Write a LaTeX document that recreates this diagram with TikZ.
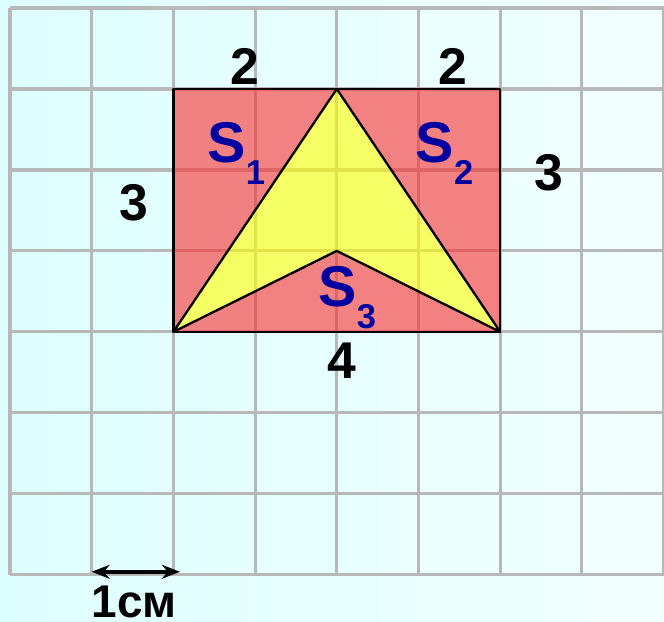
\documentclass[tikz,border=0pt]{standalone}
\usepackage{fontspec}
\setmainfont{Liberation Sans}
\usetikzlibrary{arrows.meta}
\definecolor{bgleft}{RGB}{222,255,255}
\definecolor{bgright}{RGB}{242,255,255}
\definecolor{gridgray}{RGB}{184,184,184}
\definecolor{areared}{RGB}{250,45,45}
\definecolor{areayellow}{RGB}{255,255,0}
\definecolor{labelblue}{RGB}{0,0,160}
\tikzset{
  gridline/.style={gridgray, line width=1.1pt},
  numtext/.style={anchor=base, font=\fontsize{18}{18}\selectfont\bfseries},
  unittext/.style={anchor=base, inner sep=0pt, font=\fontsize{16}{16}\selectfont\bfseries},
  areatext/.style={anchor=base west, inner sep=0pt, text=labelblue, font=\fontsize{20}{20}\selectfont\bfseries},
  outline/.style={line width=0.8pt, line join=round},
}
\newcommand{\sidelabel}[3] {\node at (#1) (#2) [numtext] {#3};}
\newcommand{\arealabel}[3] {\node at (#1) (#2) [areatext] {S\raisebox{-7.5pt}{\fontsize{12}{12}\selectfont #3}};}
\begin{document}
\begin{tikzpicture}[x=1cm, y=0.991cm]

\useasboundingbox (-0.122,-0.58) rectangle (8.005,7.099);
\shade [left color=bgleft, right color=bgright] (-0.122,-0.58) rectangle (8.005,7.099);
\foreach \gx in {0,...,8}
  \draw [gridline] (\gx,0) -- (\gx,7);
\foreach \gy in {0,...,7}
  \draw [gridline] (0,\gy) -- (8,\gy);

\coordinate (bl) at (2,3);
\coordinate (br) at (6,3);
\coordinate (tr) at (6,6);
\coordinate (apex) at (4,6);
\coordinate (notch) at (4,4);

\fill [areared, opacity=0.6, even odd rule] (bl) rectangle (tr) (bl) -- (apex) -- (br) -- (notch) -- cycle;
\fill [areayellow, opacity=0.6] (bl) -- (apex) -- (br) -- (notch) -- cycle;
\draw [outline] (bl) rectangle (tr);
\draw [outline] (bl) -- (apex) -- (br) -- (notch) -- cycle;

\sidelabel {2.87,6.05}{topleft}{2}
\sidelabel {5.42,6.05}{topright}{2}
\sidelabel {1.52,4.38}{leftside}{3}
\sidelabel {6.60,4.75}{rightside}{3}
\sidelabel {4.06,2.43}{bottomside}{4}

\arealabel {2.41,5.09}{sone}{1}
\arealabel {4.96,5.09}{stwo}{2}
\arealabel {3.77,3.31}{sthree}{3}

\coordinate (scaleleft) at (1,0.037);
\coordinate (scaleright) at (2.08,0.037);
\draw [{Stealth[length=0.22cm,width=0.17cm]}-{Stealth[length=0.22cm,width=0.17cm]}, line width=1.3pt] (scaleleft) -- (scaleright);
\node at (1.52,-0.53) (unit) [unittext] {1см};

\end{tikzpicture}
\end{document}
